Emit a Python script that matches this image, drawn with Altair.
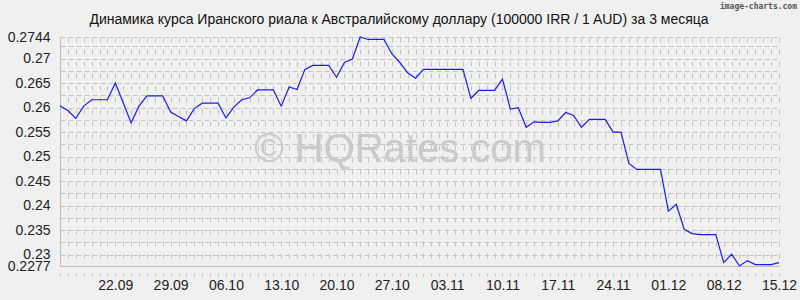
import altair as alt
import pandas as pd

TITLE = "Динамика курса Иранского риала к Австралийскому доллару (100000 IRR / 1 AUD) за 3 месяца"
CREDIT = "image-charts.com"
WATERMARK = "© HQRates.com"

start_date = "2024-09-15"
rates = [
    0.2604, 0.2594, 0.2578, 0.2603, 0.2616, 0.2616, 0.2616, 0.2650, 0.2610, 0.2569,
    0.2603, 0.2624, 0.2624, 0.2624, 0.2591, 0.2582, 0.2573, 0.2598, 0.2609, 0.2609,
    0.2609, 0.2579, 0.2601, 0.2616, 0.2620, 0.2636, 0.2636, 0.2636, 0.2603, 0.2642,
    0.2637, 0.2678, 0.2686, 0.2686, 0.2686, 0.2662, 0.2692, 0.2699, 0.2744, 0.2739,
    0.2739, 0.2739, 0.2710, 0.2692, 0.2671, 0.2660, 0.2678, 0.2678, 0.2678, 0.2678,
    0.2678, 0.2678, 0.2619, 0.2635, 0.2635, 0.2635, 0.2658, 0.2597, 0.2600, 0.2560,
    0.2571, 0.2570, 0.2570, 0.2573, 0.2590, 0.2584, 0.2560, 0.2576, 0.2576, 0.2576,
    0.2550, 0.2550, 0.2486, 0.2474, 0.2474, 0.2474, 0.2474, 0.2389, 0.2403, 0.2352,
    0.2343, 0.2341, 0.2341, 0.2341, 0.2284, 0.2301, 0.2277, 0.2288, 0.2280, 0.2280,
    0.2280, 0.2284,
]
x_tick_labels = ["2024-09-22", "2024-09-29", "2024-10-06", "2024-10-13", "2024-10-20",
                 "2024-10-27", "2024-11-03", "2024-11-10", "2024-11-17", "2024-11-24",
                 "2024-12-01", "2024-12-08", "2024-12-15"]
y_ticks = [0.2277, 0.23, 0.235, 0.24, 0.245, 0.25, 0.255, 0.26, 0.265, 0.27, 0.2744]
y_grid = [0.23, 0.2325, 0.235, 0.2375, 0.24, 0.2425, 0.245, 0.2475, 0.25, 0.2525,
          0.255, 0.2575, 0.26, 0.2625, 0.265, 0.2675, 0.27, 0.2725, 0.2744]
Y_MIN, Y_MAX = 0.2277, 0.2744

dates = pd.date_range(start_date, periods=len(rates), freq="D", tz="UTC")
date_ms = [int(d.value // 1_000_000) for d in dates]
label_ms = [int(pd.Timestamp(s, tz="UTC").value // 1_000_000) for s in x_tick_labels]
df = pd.DataFrame({"date": list(dates.strftime("%Y-%m-%d")), "rate": rates})

FONT = "Liberation Sans"
W, H = 719, 229
GRID = "#c4c4c4"

y_all = sorted(set(y_grid) | set(y_ticks))

x_axis = alt.Axis(
    values=date_ms,
    labelExpr="indexof(" + str(label_ms) + ", time(datum.value)) >= 0 ? utcFormat(datum.value, '%d.%m') : ''",
    title=None,
    grid=True,
    gridColor=GRID,
    gridDash=[5, 7],
    gridOpacity=1,
    gridWidth=1,
    ticks=True,
    tickSize=10,
    tickColor="#c4c4c4",
    tickDash=[0, 7, 3],
    domainColor="#bdbdbd",
    labelFont=FONT,
    labelFontSize=14,
    labelColor="#222222",
    labelPadding=2,
    labelFlush=False,
    labelOverlap=False,
    labelBound=False,
)
y_axis = alt.Axis(
    values=y_all,
    labelExpr="indexof(" + str(y_ticks) + ", datum.value) >= 0 ? format(datum.value, '~g') : ''",
    title=None,
    grid=True,
    gridColor=GRID,
    gridDash=[5, 3],
    gridOpacity=1,
    gridWidth=1,
    ticks=False,
    domainColor="#bdbdbd",
    labelFont=FONT,
    labelFontSize=14,
    labelColor="#222222",
    labelPadding=10,
    labelFlush=False,
    labelOverlap=False,
    labelBound=False,
)

line = alt.Chart(df).mark_line(color="#1a1aff", strokeWidth=1.2).encode(
    x=alt.X("date:T", scale=alt.Scale(type="utc", domain=[date_ms[0], date_ms[-1]]), axis=x_axis),
    y=alt.Y("rate:Q", scale=alt.Scale(domain=[Y_MIN, Y_MAX], zero=False, nice=False), axis=y_axis),
)

title = alt.Chart(pd.DataFrame({"t": [TITLE]})).mark_text(
    font=FONT, fontSize=14, color="#111111", align="center", baseline="alphabetic"
).encode(text="t:N", x=alt.value(339), y=alt.value(-13))

credit = alt.Chart(pd.DataFrame({"c": [CREDIT]})).mark_text(
    font="DejaVu Sans Mono", fontSize=8, fontWeight="bold", color="#555555",
    align="right", baseline="alphabetic"
).encode(text="c:N", x=alt.value(737), y=alt.value(-28))

watermark = alt.Chart(pd.DataFrame({"w": [WATERMARK]})).mark_text(
    font=FONT, fontSize=40, color="#cacaca", align="center", baseline="alphabetic"
).encode(text="w:N", x=alt.value(340), y=alt.value(125))

chart = alt.layer(line, watermark, title, credit).properties(
    width=W,
    height=H,
    autosize=alt.AutoSizeParams(type="none"),
    padding={"left": 60, "top": 37, "right": 21, "bottom": 34},
    background="#f0f0f0",
).configure_view(stroke=None)

chart.save("out.html", embed_options={"renderer": "svg", "actions": False})
